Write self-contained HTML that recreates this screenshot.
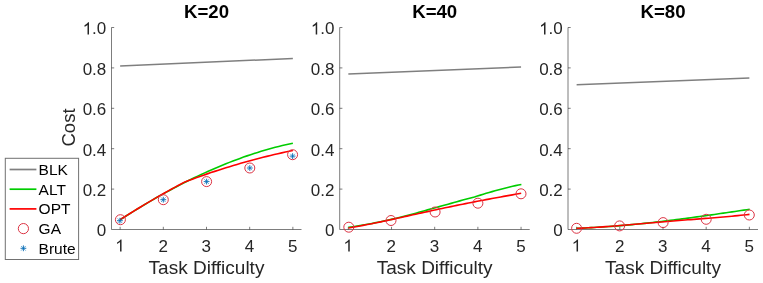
<!DOCTYPE html>
<html><head><meta charset="utf-8"><style>
html,body{margin:0;padding:0;background:#fff;width:763px;height:283px;overflow:hidden}
svg{display:block;will-change:transform}
text{font-family:"Liberation Sans",sans-serif;font-variant-ligatures:none}
</style></head><body>
<svg width="763" height="283" viewBox="0 0 763 283">
<rect width="763" height="283" fill="#fff"/>
<path d="M111.50,27.50 V229.50 H301.50" fill="none" stroke="#262626" stroke-width="1" opacity="0.6"/>
<path d="M111.50,189.10 h2.7 M111.50,148.70 h2.7 M111.50,108.30 h2.7 M111.50,67.90 h2.7 M111.50,27.50 h2.7 M120.14,229.50 v-2.7 M163.32,229.50 v-2.7 M206.50,229.50 v-2.7 M249.68,229.50 v-2.7 M292.86,229.50 v-2.7" stroke="#262626" stroke-width="1" opacity="0.6"/>
<text x="106.30" y="236.40" font-size="17.0" fill="#262626" text-anchor="end">0</text>
<text x="106.30" y="196.00" font-size="17.0" fill="#262626" text-anchor="end">0.2</text>
<text x="106.30" y="155.60" font-size="17.0" fill="#262626" text-anchor="end">0.4</text>
<text x="106.30" y="115.20" font-size="17.0" fill="#262626" text-anchor="end">0.6</text>
<text x="106.30" y="74.80" font-size="17.0" fill="#262626" text-anchor="end">0.8</text>
<text x="92.12" y="34.40" font-size="17.0" fill="#262626">.0</text>
<path transform="translate(82.668,34.400) scale(0.008301,-0.008301)" d="M763 0L583 0L583 1147Q518 1085 412 1023Q307 961 223 930L223 1104Q374 1175 487 1276Q600 1377 647 1472L763 1472Z" fill="#262626"/>
<text x="163.12" y="251.6" font-size="17.0" fill="#262626" text-anchor="middle">2</text>
<text x="206.30" y="251.6" font-size="17.0" fill="#262626" text-anchor="middle">3</text>
<text x="249.48" y="251.6" font-size="17.0" fill="#262626" text-anchor="middle">4</text>
<text x="292.66" y="251.6" font-size="17.0" fill="#262626" text-anchor="middle">5</text>
<path transform="translate(115.209,251.600) scale(0.008301,-0.008301)" d="M763 0L583 0L583 1147Q518 1085 412 1023Q307 961 223 930L223 1104Q374 1175 487 1276Q600 1377 647 1472L763 1472Z" fill="#262626"/>
<text x="206.50" y="273.6" font-size="19.0" fill="#262626" text-anchor="middle">Task Difficulty</text>
<text x="206.50" y="17.8" font-size="18.6" font-weight="bold" fill="#000" text-anchor="middle">K=20</text>
<line x1="120.14" y1="65.9" x2="292.86" y2="58.5" stroke="#7f7f7f" stroke-width="1.5"/>
<polyline points="120.14,219.75 123.66,217.49 127.19,215.26 130.71,213.06 134.24,210.88 137.76,208.72 141.29,206.59 144.81,204.48 148.34,202.40 151.86,200.34 155.38,198.31 158.91,196.31 162.43,194.34 165.96,192.39 169.48,190.47 173.01,188.58 176.53,186.71 180.06,184.88 183.58,183.07 187.11,181.29 190.63,179.54 194.16,177.83 197.68,176.14 201.21,174.48 204.73,172.86 208.26,171.26 211.78,169.70 215.31,168.17 218.83,166.67 222.36,165.21 225.88,163.77 229.41,162.37 232.93,161.01 236.46,159.67 239.98,158.38 243.51,157.11 247.03,155.88 250.56,154.69 254.08,153.53 257.61,152.41 261.13,151.33 264.66,150.28 268.18,149.26 271.71,148.29 275.23,147.35 278.76,146.45 282.28,145.59 285.81,144.77 289.33,143.98 292.86,143.24" fill="none" stroke="#00cc00" stroke-width="1.6" stroke-linejoin="round"/>
<polyline points="120.14,219.69 123.54,217.52 126.95,215.37 130.36,213.24 133.77,211.13 137.18,209.05 140.59,206.98 144.00,204.93 147.41,202.90 150.82,200.89 154.23,198.90 157.63,196.93 161.04,194.98 164.45,193.05 167.86,191.14 171.27,189.25 174.68,187.38 178.09,185.53 181.50,183.70 184.91,181.89 188.63,180.50 192.35,179.13 196.07,177.78 199.80,176.45 203.52,175.15 207.24,173.87 210.96,172.60 214.69,171.37 218.41,170.15 222.13,168.96 225.85,167.79 229.57,166.64 233.30,165.51 237.02,164.41 240.74,163.33 244.46,162.27 248.19,161.23 251.91,160.21 255.63,159.22 259.35,158.25 263.08,157.30 266.80,156.38 270.52,155.47 274.24,154.59 277.97,153.73 281.69,152.90 285.41,152.08 289.13,151.29 292.86,150.52" fill="none" stroke="#ff0000" stroke-width="1.6" stroke-linejoin="round"/>
<circle cx="120.40" cy="219.70" r="5.0" fill="none" stroke="#dc3444" stroke-width="1.0"/>
<circle cx="163.30" cy="199.70" r="5.0" fill="none" stroke="#dc3444" stroke-width="1.0"/>
<circle cx="206.60" cy="181.60" r="5.0" fill="none" stroke="#dc3444" stroke-width="1.0"/>
<circle cx="249.80" cy="168.00" r="5.0" fill="none" stroke="#dc3444" stroke-width="1.0"/>
<circle cx="292.60" cy="154.70" r="5.0" fill="none" stroke="#dc3444" stroke-width="1.0"/>
<path d="M117.00,220.70L122.80,220.70M119.90,217.80L119.90,223.60" stroke="#0868b0" stroke-width="0.9" fill="none"/><path d="M117.60,218.40L122.20,223.00M117.60,223.00L122.20,218.40" stroke="#0072BD" stroke-width="0.8" opacity="0.8" fill="none"/>
<path d="M160.40,199.70L166.20,199.70M163.30,196.80L163.30,202.60" stroke="#0868b0" stroke-width="0.9" fill="none"/><path d="M161.00,197.40L165.60,202.00M161.00,202.00L165.60,197.40" stroke="#0072BD" stroke-width="0.8" opacity="0.8" fill="none"/>
<path d="M203.70,181.60L209.50,181.60M206.60,178.70L206.60,184.50" stroke="#0868b0" stroke-width="0.9" fill="none"/><path d="M204.30,179.30L208.90,183.90M204.30,183.90L208.90,179.30" stroke="#0072BD" stroke-width="0.8" opacity="0.8" fill="none"/>
<path d="M246.90,168.00L252.70,168.00M249.80,165.10L249.80,170.90" stroke="#0868b0" stroke-width="0.9" fill="none"/><path d="M247.50,165.70L252.10,170.30M247.50,170.30L252.10,165.70" stroke="#0072BD" stroke-width="0.8" opacity="0.8" fill="none"/>
<path d="M289.70,156.10L295.50,156.10M292.60,153.20L292.60,159.00" stroke="#0868b0" stroke-width="0.9" fill="none"/><path d="M290.30,153.80L294.90,158.40M290.30,158.40L294.90,153.80" stroke="#0072BD" stroke-width="0.8" opacity="0.8" fill="none"/>
<path d="M339.70,27.50 V229.50 H529.70" fill="none" stroke="#262626" stroke-width="1" opacity="0.6"/>
<path d="M339.70,189.10 h2.7 M339.70,148.70 h2.7 M339.70,108.30 h2.7 M339.70,67.90 h2.7 M339.70,27.50 h2.7 M348.34,229.50 v-2.7 M391.52,229.50 v-2.7 M434.70,229.50 v-2.7 M477.88,229.50 v-2.7 M521.06,229.50 v-2.7" stroke="#262626" stroke-width="1" opacity="0.6"/>
<text x="334.50" y="236.40" font-size="17.0" fill="#262626" text-anchor="end">0</text>
<text x="334.50" y="196.00" font-size="17.0" fill="#262626" text-anchor="end">0.2</text>
<text x="334.50" y="155.60" font-size="17.0" fill="#262626" text-anchor="end">0.4</text>
<text x="334.50" y="115.20" font-size="17.0" fill="#262626" text-anchor="end">0.6</text>
<text x="334.50" y="74.80" font-size="17.0" fill="#262626" text-anchor="end">0.8</text>
<text x="320.32" y="34.40" font-size="17.0" fill="#262626">.0</text>
<path transform="translate(310.868,34.400) scale(0.008301,-0.008301)" d="M763 0L583 0L583 1147Q518 1085 412 1023Q307 961 223 930L223 1104Q374 1175 487 1276Q600 1377 647 1472L763 1472Z" fill="#262626"/>
<text x="391.32" y="251.6" font-size="17.0" fill="#262626" text-anchor="middle">2</text>
<text x="434.50" y="251.6" font-size="17.0" fill="#262626" text-anchor="middle">3</text>
<text x="477.68" y="251.6" font-size="17.0" fill="#262626" text-anchor="middle">4</text>
<text x="520.86" y="251.6" font-size="17.0" fill="#262626" text-anchor="middle">5</text>
<path transform="translate(343.409,251.600) scale(0.008301,-0.008301)" d="M763 0L583 0L583 1147Q518 1085 412 1023Q307 961 223 930L223 1104Q374 1175 487 1276Q600 1377 647 1472L763 1472Z" fill="#262626"/>
<text x="434.70" y="273.6" font-size="19.0" fill="#262626" text-anchor="middle">Task Difficulty</text>
<text x="434.70" y="17.8" font-size="18.6" font-weight="bold" fill="#000" text-anchor="middle">K=40</text>
<line x1="348.34" y1="74.1" x2="521.06" y2="67.0" stroke="#7f7f7f" stroke-width="1.5"/>
<polyline points="348.40,227.35 351.33,226.94 354.26,226.50 357.20,226.05 360.13,225.57 363.06,225.08 365.99,224.56 368.93,224.03 371.86,223.48 374.79,222.91 377.72,222.32 380.65,221.72 383.59,221.09 386.52,220.45 389.45,219.79 392.38,219.11 395.32,218.42 398.25,217.71 401.18,216.99 404.11,216.25 407.04,215.49 409.98,214.73 412.91,213.95 415.84,213.15 418.77,212.35 421.71,211.53 424.64,210.70 427.57,209.87 430.50,209.03 433.43,208.24 436.37,207.44 439.30,206.63 442.23,205.82 445.16,205.00 448.09,204.18 451.03,203.36 453.96,202.54 456.89,201.71 459.82,200.89 462.76,200.09 465.69,199.29 468.62,198.50 471.55,197.71 474.48,196.94 477.42,196.04 480.35,195.13 483.28,194.24 486.21,193.35 489.15,192.48 492.08,191.63 495.01,190.79 497.94,189.97 500.87,189.18 503.81,188.42 506.74,187.69 509.67,186.98 512.60,186.30 515.54,185.64 518.47,185.02 521.40,184.43" fill="none" stroke="#00cc00" stroke-width="1.6" stroke-linejoin="round"/>
<polyline points="348.40,227.98 351.33,227.49 354.26,226.98 357.19,226.46 360.12,225.93 363.04,225.38 365.97,224.81 368.90,224.24 371.83,223.66 374.76,223.06 377.69,222.46 380.62,221.85 383.55,221.23 386.47,220.61 389.40,219.98 392.33,219.35 395.26,218.71 398.19,218.07 401.12,217.43 404.05,216.78 406.98,216.13 409.91,215.49 412.83,214.84 415.76,214.19 418.69,213.54 421.62,212.90 424.55,212.26 427.48,211.61 430.41,210.98 433.34,210.34 436.26,209.71 439.19,209.08 442.12,208.45 445.05,207.83 447.98,207.22 450.91,206.60 453.84,206.00 456.77,205.39 459.69,204.80 462.62,204.20 465.55,203.61 468.48,203.03 471.41,202.45 474.34,201.88 477.27,201.32 480.20,200.75 483.13,200.20 486.05,199.64 488.98,199.09 491.91,198.55 494.84,198.01 497.77,197.48 500.70,196.94 503.63,196.41 506.56,195.89 509.48,195.36 512.41,194.84 515.34,194.32 518.27,193.81 521.20,193.29" fill="none" stroke="#ff0000" stroke-width="1.6" stroke-linejoin="round"/>
<circle cx="348.80" cy="227.20" r="5.0" fill="none" stroke="#dc3444" stroke-width="1.0"/>
<circle cx="391.00" cy="220.50" r="5.0" fill="none" stroke="#dc3444" stroke-width="1.0"/>
<circle cx="435.10" cy="212.00" r="5.0" fill="none" stroke="#dc3444" stroke-width="1.0"/>
<circle cx="477.90" cy="203.20" r="5.0" fill="none" stroke="#dc3444" stroke-width="1.0"/>
<circle cx="521.00" cy="193.80" r="5.0" fill="none" stroke="#dc3444" stroke-width="1.0"/>
<path d="M568.00,27.50 V229.50 H758.00" fill="none" stroke="#262626" stroke-width="1" opacity="0.6"/>
<path d="M568.00,189.10 h2.7 M568.00,148.70 h2.7 M568.00,108.30 h2.7 M568.00,67.90 h2.7 M568.00,27.50 h2.7 M576.64,229.50 v-2.7 M619.82,229.50 v-2.7 M663.00,229.50 v-2.7 M706.18,229.50 v-2.7 M749.36,229.50 v-2.7" stroke="#262626" stroke-width="1" opacity="0.6"/>
<text x="562.80" y="236.40" font-size="17.0" fill="#262626" text-anchor="end">0</text>
<text x="562.80" y="196.00" font-size="17.0" fill="#262626" text-anchor="end">0.2</text>
<text x="562.80" y="155.60" font-size="17.0" fill="#262626" text-anchor="end">0.4</text>
<text x="562.80" y="115.20" font-size="17.0" fill="#262626" text-anchor="end">0.6</text>
<text x="562.80" y="74.80" font-size="17.0" fill="#262626" text-anchor="end">0.8</text>
<text x="548.62" y="34.40" font-size="17.0" fill="#262626">.0</text>
<path transform="translate(539.168,34.400) scale(0.008301,-0.008301)" d="M763 0L583 0L583 1147Q518 1085 412 1023Q307 961 223 930L223 1104Q374 1175 487 1276Q600 1377 647 1472L763 1472Z" fill="#262626"/>
<text x="619.62" y="251.6" font-size="17.0" fill="#262626" text-anchor="middle">2</text>
<text x="662.80" y="251.6" font-size="17.0" fill="#262626" text-anchor="middle">3</text>
<text x="705.98" y="251.6" font-size="17.0" fill="#262626" text-anchor="middle">4</text>
<text x="749.16" y="251.6" font-size="17.0" fill="#262626" text-anchor="middle">5</text>
<path transform="translate(571.709,251.600) scale(0.008301,-0.008301)" d="M763 0L583 0L583 1147Q518 1085 412 1023Q307 961 223 930L223 1104Q374 1175 487 1276Q600 1377 647 1472L763 1472Z" fill="#262626"/>
<text x="663.00" y="273.6" font-size="19.0" fill="#262626" text-anchor="middle">Task Difficulty</text>
<text x="663.00" y="17.8" font-size="18.6" font-weight="bold" fill="#000" text-anchor="middle">K=80</text>
<line x1="576.64" y1="84.8" x2="749.36" y2="78.0" stroke="#7f7f7f" stroke-width="1.5"/>
<polyline points="576.40,228.29 579.34,228.18 582.27,228.06 585.21,227.93 588.15,227.80 591.09,227.65 594.02,227.49 596.96,227.32 599.90,227.14 602.84,226.95 605.77,226.76 608.71,226.55 611.65,226.34 614.58,226.11 617.52,225.88 620.46,225.64 623.40,225.39 626.33,225.13 629.27,224.86 632.21,224.59 635.15,224.31 638.08,224.02 641.02,223.72 643.96,223.42 646.89,223.10 649.83,222.79 652.77,222.46 655.71,222.13 658.64,221.79 661.58,221.45 664.52,221.10 667.46,220.74 670.39,220.38 673.33,220.01 676.27,219.64 679.21,219.27 682.14,218.88 685.08,218.50 688.02,218.11 690.95,217.71 693.89,217.31 696.83,216.91 699.77,216.50 702.70,216.09 705.64,215.68 708.58,215.27 711.52,214.85 714.45,214.43 717.39,214.00 720.33,213.58 723.26,213.15 726.20,212.72 729.14,212.29 732.08,211.86 735.01,211.42 737.95,210.99 740.89,210.56 743.83,210.12 746.76,209.69 749.70,209.25" fill="none" stroke="#00cc00" stroke-width="1.6" stroke-linejoin="round"/>
<polyline points="576.40,228.32 579.33,228.22 582.27,228.09 585.20,227.96 588.14,227.80 591.07,227.64 594.00,227.46 596.94,227.27 599.87,227.08 602.81,226.87 605.74,226.65 608.67,226.43 611.61,226.20 614.54,225.97 617.47,225.73 620.41,225.48 623.34,225.24 626.28,224.99 629.21,224.74 632.14,224.48 635.08,224.23 638.01,223.97 640.95,223.72 643.88,223.46 646.81,223.21 649.75,222.96 652.68,222.70 655.62,222.45 658.55,222.20 661.48,221.96 664.42,221.71 667.35,221.47 670.28,221.23 673.22,220.99 676.15,220.75 679.09,220.51 682.02,220.28 684.95,220.04 687.89,219.81 690.82,219.58 693.76,219.35 696.69,219.12 699.62,218.89 702.56,218.66 705.49,218.42 708.43,218.19 711.36,217.95 714.29,217.72 717.23,217.47 720.16,217.23 723.09,216.97 726.03,216.72 728.96,216.45 731.90,216.18 734.83,215.90 737.76,215.61 740.70,215.32 743.63,215.01 746.57,214.68 749.50,214.35" fill="none" stroke="#ff0000" stroke-width="1.6" stroke-linejoin="round"/>
<circle cx="576.60" cy="228.30" r="5.0" fill="none" stroke="#dc3444" stroke-width="1.0"/>
<circle cx="619.60" cy="225.90" r="5.0" fill="none" stroke="#dc3444" stroke-width="1.0"/>
<circle cx="663.10" cy="222.60" r="5.0" fill="none" stroke="#dc3444" stroke-width="1.0"/>
<circle cx="706.20" cy="219.30" r="5.0" fill="none" stroke="#dc3444" stroke-width="1.0"/>
<circle cx="749.30" cy="215.00" r="5.0" fill="none" stroke="#dc3444" stroke-width="1.0"/>
<text transform="translate(75,127.5) rotate(-90)" x="0" y="0" font-size="18.5" fill="#262626" text-anchor="middle">Cost</text>
<rect x="5.3" y="158.3" width="73.3" height="101.2" fill="#fff" stroke="#262626" stroke-width="1" opacity="0.65"/>
<line x1="9.6" y1="169.5" x2="36.4" y2="169.5" stroke="#7f7f7f" stroke-width="1.7"/>
<line x1="9.6" y1="189.2" x2="36.4" y2="189.2" stroke="#00cc00" stroke-width="1.7"/>
<line x1="9.6" y1="208.9" x2="36.4" y2="208.9" stroke="#ff0000" stroke-width="1.7"/>
<circle cx="23.4" cy="228.6" r="5.1" fill="none" stroke="#dc3444" stroke-width="1.0"/>
<path d="M20.50,248.30L26.30,248.30M23.40,245.40L23.40,251.20" stroke="#0868b0" stroke-width="0.9" fill="none"/><path d="M21.10,246.00L25.70,250.60M21.10,250.60L25.70,246.00" stroke="#0072BD" stroke-width="0.8" opacity="0.8" fill="none"/>
<text x="38.6" y="175.00" font-size="15.5" fill="#000">BLK</text>
<text x="38.6" y="194.70" font-size="15.5" fill="#000">ALT</text>
<text x="38.6" y="214.40" font-size="15.5" fill="#000">OPT</text>
<text x="38.6" y="234.10" font-size="15.5" fill="#000">GA</text>
<text x="38.6" y="253.80" font-size="15.5" fill="#000">Brute</text>
</svg></body></html>
